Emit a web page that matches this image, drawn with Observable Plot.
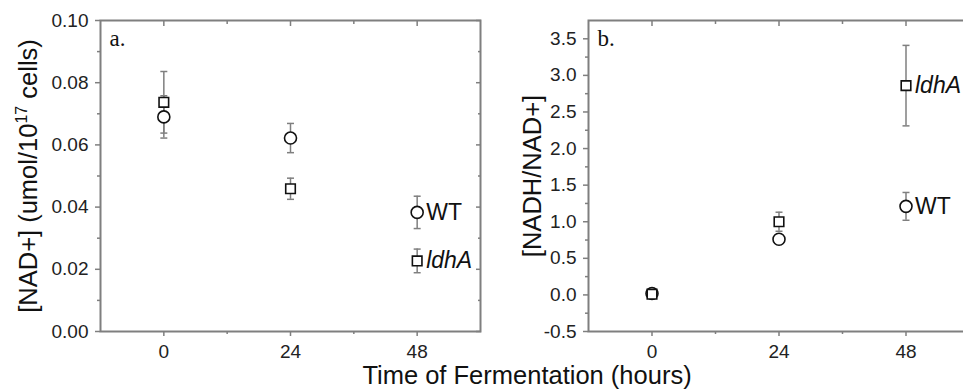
<!DOCTYPE html>
<html>
<head>
<meta charset="utf-8">
<script src="https://cdn.jsdelivr.net/npm/d3@7"></script>
<script src="https://cdn.jsdelivr.net/npm/@observablehq/plot@0.6"></script>
<style>
  html, body { margin: 0; padding: 0; background: #fff; }
  #wrap { position: relative; width: 963px; height: 392px; overflow: hidden; font-family: "Liberation Sans", Arial, sans-serif; }
  #wrap svg { position: absolute; top: 0; overflow: visible; }
  #xtitle { position: absolute; top: 363px; left: 0; width: 1054px; text-align: center; font-size: 25.5px; line-height: 25.5px; color: #111; }
</style>
</head>
<body>
<div id="wrap"><div id="xtitle">Time of Fermentation (hours)</div></div>
<script>
// ---- data ----
const hours = [0, 24, 48];
const seriesNames = ["WT", "ldhA"];

// panel a: [NAD+] (umol/10^17 cells)
const nadWT = [0.0690, 0.0622, 0.0383];
const nadWTErr = [0.0068, 0.0047, 0.0052];
const nadLdhA = [0.0737, 0.0459, 0.0227];
const nadLdhAErr = [0.0099, 0.0034, 0.0038];

// panel b: [NADH/NAD+]
const ratioWT = [0.02, 0.76, 1.21];
const ratioWTErr = [0.03, 0.06, 0.19];
const ratioLdhA = [0.01, 1.00, 2.86];
const ratioLdhAErr = [0.04, 0.13, 0.55];

// axis ticks
const xMajor = [0, 24, 48];
const xMinor = [12, 36];
const yMajorA = [0, 0.02, 0.04, 0.06, 0.08, 0.10];
const yMinorA = [0.01, 0.03, 0.05, 0.07, 0.09];
const yMajorB = [-0.5, 0, 0.5, 1.0, 1.5, 2.0, 2.5, 3.0, 3.5];
const yMinorB = [-0.25, 0.25, 0.75, 1.25, 1.75, 2.25, 2.75, 3.25];

function rows(vals, errs, name) {
  return hours.map((h, i) => ({hour: h, value: vals[i], lo: vals[i] - errs[i], hi: vals[i] + errs[i], series: name}));
}

const capSymbol = {
  draw(context, size) {
    const w = Math.sqrt(size / Math.PI);
    context.moveTo(-w, 0);
    context.lineTo(w, 0);
  }
};

const FONT = "Liberation Sans, Arial, sans-serif";
const GRAY = "#7f7f7f";

function panel({wt, ldh, yDomain, yMajor, yMinor, fmt, ylabel, tag, width, marginLeft, marginRight, ylabelDx}) {
  const all = [...wt, ...ldh];
  const last = all.filter(d => d.hour === 48);
  const axisCommon = {stroke: GRAY, strokeWidth: 1.5, fill: "#222", fontSize: 19, label: null};
  return Plot.plot({
    width, height: 362,
    marginLeft, marginRight, marginTop: 20, marginBottom: 31,
    style: {fontFamily: FONT, background: "transparent", overflow: "visible"},
    x: {domain: [-12, 60], axis: null},
    y: {domain: yDomain, axis: null},
    marks: [
      // error bars
      Plot.ruleX(all, {x: "hour", y1: "lo", y2: "hi", stroke: GRAY, strokeWidth: 1.5}),
      Plot.dot(all, {x: "hour", y: "lo", symbol: capSymbol, r: 3.5, stroke: GRAY, strokeWidth: 1.5}),
      Plot.dot(all, {x: "hour", y: "hi", symbol: capSymbol, r: 3.5, stroke: GRAY, strokeWidth: 1.5}),
      // markers
      Plot.dot(wt, {x: "hour", y: "value", symbol: "circle", r: 6, fill: "white", stroke: "#111", strokeWidth: 1.6}),
      Plot.dot(ldh, {x: "hour", y: "value", symbol: "square", r: 5.4, fill: "white", stroke: "#111", strokeWidth: 1.6}),
      // series labels
      Plot.text(last.filter(d => d.series === "WT"), {x: "hour", y: "value", text: "series", dx: 9, textAnchor: "start", lineAnchor: "middle", fontSize: 23, fill: "#111"}),
      Plot.text(last.filter(d => d.series === "ldhA"), {x: "hour", y: "value", text: "series", dx: 9, textAnchor: "start", lineAnchor: "middle", fontSize: 23, fontStyle: "italic", fill: "#111"}),
      // frame
      Plot.frame({stroke: GRAY, strokeWidth: 2}),
      // axes
      Plot.axisX({...axisCommon, anchor: "bottom", ticks: xMajor, tickSize: 5, tickPadding: 8, tickFormat: d => String(d)}),
      Plot.axisX({...axisCommon, anchor: "bottom", ticks: xMinor, tickSize: 3, tickFormat: () => ""}),
      Plot.axisX({...axisCommon, anchor: "top", ticks: xMajor, tickSize: -5, tickFormat: () => ""}),
      Plot.axisX({...axisCommon, anchor: "top", ticks: xMinor, tickSize: -3, tickFormat: () => ""}),
      Plot.axisY({...axisCommon, anchor: "left", ticks: yMajor, tickSize: 5, tickPadding: 7, tickFormat: fmt}),
      Plot.axisY({...axisCommon, anchor: "left", ticks: yMinor, tickSize: 3, tickFormat: () => ""}),
      Plot.axisY({...axisCommon, anchor: "right", ticks: yMajor, tickSize: -5, tickFormat: () => ""}),
      Plot.axisY({...axisCommon, anchor: "right", ticks: yMinor, tickSize: -3, tickFormat: () => ""}),
      // axis title
      Plot.text([ylabel], {frameAnchor: "left", dx: ylabelDx, rotate: -90, text: d => d, textAnchor: "middle", lineAnchor: "middle", fontSize: 25.5, fill: "#111"}),
      // panel tag
      Plot.text([tag], {frameAnchor: "top-left", dx: 9, dy: 9, text: d => d, textAnchor: "start", lineAnchor: "top", fontSize: 23, fontFamily: "Liberation Serif, Times New Roman, serif", fill: "#111"})
    ]
  });
}

const wrap = document.getElementById("wrap");

const svgA = panel({
  wt: rows(nadWT, nadWTErr, seriesNames[0]),
  ldh: rows(nadLdhA, nadLdhAErr, seriesNames[1]),
  yDomain: [0, 0.10], yMajor: yMajorA, yMinor: yMinorA,
  fmt: d => d.toFixed(2),
  ylabel: "[NAD+] (umol/1017 cells)", tag: "a.",
  width: 490, marginLeft: 100, marginRight: 10, ylabelDx: -72
});
svgA.style.left = "0px";
wrap.appendChild(svgA);

// render the exponent as a superscript
for (const t of svgA.querySelectorAll("text")) {
  if (t.textContent === "[NAD+] (umol/1017 cells)") {
    t.innerHTML = '[NAD+] (umol/10<tspan dy="-10" font-size="16">17</tspan><tspan dy="10"> cells)</tspan>';
  }
}

const svgB = panel({
  wt: rows(ratioWT, ratioWTErr, seriesNames[0]),
  ldh: rows(ratioLdhA, ratioLdhAErr, seriesNames[1]),
  yDomain: [-0.5, 3.75], yMajor: yMajorB, yMinor: yMinorB,
  fmt: d => d.toFixed(1),
  ylabel: "[NADH/NAD+]", tag: "b.",
  width: 500, marginLeft: 108, marginRight: 11, ylabelDx: -56
});
svgB.style.left = "480px";
wrap.appendChild(svgB);
</script>
</body>
</html>
